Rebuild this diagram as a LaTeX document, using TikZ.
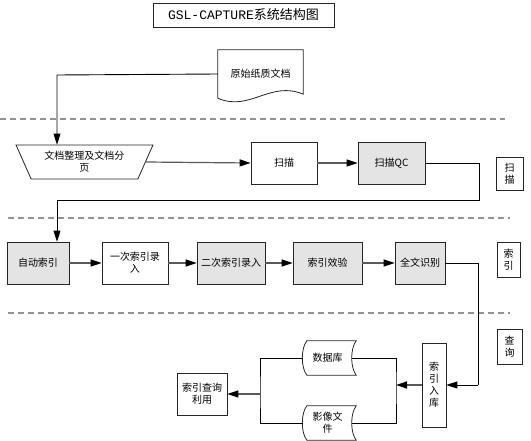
\documentclass[tikz,border=0pt]{standalone}
\usepackage{fontspec}
\setmonofont{Liberation Mono}
\newfontfamily\cjk{Noto Sans CJK SC}
\usetikzlibrary{positioning, arrows.meta, shapes.geometric, calc}

\definecolor{boxgray}{HTML}{E4E4E4}
\definecolor{linegray}{HTML}{5A5A5A}

% outline of a stored-data node, drawn round its anchors
\newcommand{\stdata}[1]{%
  \draw[frame] ($(#1.north west)+(4,0)$) -- ($(#1.north east)+(4,0)$)
    .. controls +(-6,8) and +(-6,-8) .. ($(#1.south east)+(4,0)$)
    -- ($(#1.south west)+(4,0)$)
    .. controls +(-6,-8) and +(-6,8) .. cycle;}

\begin{document}
\begin{tikzpicture}[
    x=1pt, y=-1pt,
    font=\cjk\fontsize{10}{12}\selectfont,
    frame/.style={draw=black!85, line width=0.8pt},
    box/.style={frame, fill=white, minimum height=42pt, inner sep=2pt, align=center},
    gbox/.style={box, fill=boxgray},
    tag/.style={frame, minimum width=25pt, minimum height=35pt, inner sep=1pt, align=center},
    trap/.style={frame, shape=trapezium, shape border rotate=180,
                 trapezium left angle=62, trapezium right angle=62,
                 trapezium stretches=true, minimum width=137pt,
                 minimum height=34pt, inner sep=0pt, align=center},
    stored/.style={minimum width=49pt, minimum height=34pt, inner sep=1pt, align=center},
    arr/.style={draw=linegray, line width=1.2pt, -{Triangle[length=11pt,width=7pt,black]}},
    link/.style={draw=black, line width=0.9pt},
    larr/.style={link, -{Triangle[length=11pt,width=7pt]}},
    sep/.style={draw=gray!85, line width=1.2pt, dash pattern=on 6pt off 4pt},
  ]
\useasboundingbox (0,0) rectangle (531,441);

% title
\node[frame, minimum width=181pt, minimum height=24pt,
      font=\fontsize{13}{15}\selectfont] (title) at (243.5,15)
      {{\ttfamily GSL-CAPTURE}{\cjk 系统结构图}};

% section lines
\draw[sep] (0,119) -- (505,119);
\draw[sep] (8,218) -- (510,218);
\draw[sep] (8,313) -- (510,313);

% paper document
\node[minimum width=85pt, minimum height=48pt, inner sep=0pt] (doc) at (260.5,74) {原始纸质文档};
\draw[frame] (doc.north west) -- (doc.north east) -- ($(doc.south east)+(0,-4)$)
    .. controls ($(doc.south east)+(-33,-18)$) and ($(doc.south west)+(32,14)$) .. (doc.south west)
    -- cycle;

% scanning row
\node[trap] (sort) at (84.5,162) {文档整理及文档分\\页};
\node[box, minimum width=66pt] (scan) at (284,163) {扫描};
\node[gbox, minimum width=67pt] (scanqc) at (391.5,163) {扫描QC};
\node[tag, minimum width=27pt, minimum height=33pt] (t1) at (509.5,173.5) {扫\\描};

% index row
\node[gbox, minimum width=62pt] (auto) at (38,263) {自动索引};
\node[box, minimum width=66pt] (first) at (135,263) {一次索引录\\入};
\node[gbox, minimum width=68pt] (second) at (231,263) {二次索引录入};
\node[gbox, minimum width=69pt] (check) at (327.5,263) {索引效验};
\node[gbox, minimum width=50pt] (ocr) at (420,263) {全文识别};
\node[tag, minimum width=23pt] (t2) at (508.5,259.5) {索\\引};

% query row
\node[tag] (t3) at (509.5,346.5) {查\\询};
\node[box, minimum width=24pt, minimum height=84pt] (store) at (434,385) {索\\引\\入\\库};
\node[stored] (db) at (327.5,358) {数据库};
\node[stored] (img) at (327.5,423) {影像文\\件};
\stdata{db}
\stdata{img}
\node[box, minimum width=50pt] (use) at (202,394) {索引查询\\利用};

\coordinate (k1) at (57,75);
\coordinate (k2) at (479,200);
\coordinate (k3) at (57,200);
\coordinate (k4) at (478,385);
\coordinate (j1) at (396,385);
\coordinate (j2) at (260,394);

% connectors
\draw[larr] (doc.west) -- (k1) -- (k1 |- sort.north);
\draw[arr] (sort.east) -- (scan.west);
\draw[arr] (scan) -- (scanqc);
\draw[link] (scanqc.east) -| (k2) -- (k3);
\draw[larr] (k3) -- (k3 |- auto.north);
\draw[arr] (auto) -- (first);
\draw[arr] (first) -- (second);
\draw[arr] (second) -- (check);
\draw[arr] (check) -- (ocr);
\draw[link] (ocr.east) -| (k4);
\draw[larr] (k4) -- (store.east);
\draw[arr] (store.west) -- (j1);
\draw[link] (db.east) -| (j1) |- (img.east);
\draw[link] (db.west) -| (j2) |- (img.west);
\draw[arr] (j2) -- (use.east);
\end{tikzpicture}
\end{document}
